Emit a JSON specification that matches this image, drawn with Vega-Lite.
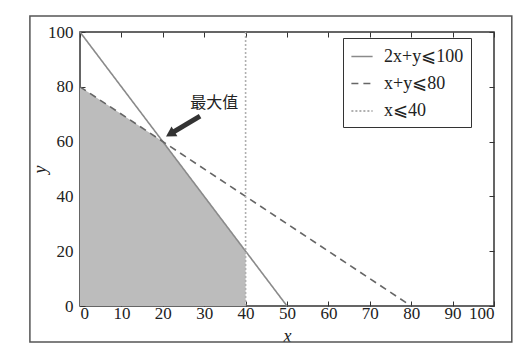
{
  "$schema": "https://vega.github.io/schema/vega-lite/v6.json",
  "width": 414,
  "height": 274,
  "autosize": {"type": "none"},
  "padding": {"left": 80, "top": 32, "right": 35, "bottom": 56},
  "background": "white",
  "config": {
    "font": "Liberation Serif",
    "view": {"stroke": "#333", "strokeWidth": 1.5},
    "axis": {"grid": false, "domain": false, "labelFont": "Liberation Serif", "labelFontSize": 17, "labelColor": "#222", "tickColor": "#333", "tickSize": -5, "tickWidth": 1, "titleFont": "Liberation Serif", "titleFontSize": 18, "titleFontStyle": "italic", "titleFontWeight": "normal", "titleColor": "#222"}
  },
  "datasets": {
    "region": [{"x": 0, "y": 80}, {"x": 20, "y": 60}, {"x": 40, "y": 20}],
    "lines": [
      {"series": "2x+y⩽100", "x": 0, "y": 100},
      {"series": "2x+y⩽100", "x": 50, "y": 0},
      {"series": "x+y⩽80", "x": 0, "y": 80},
      {"series": "x+y⩽80", "x": 80, "y": 0},
      {"series": "x⩽40", "x": 40, "y": 0},
      {"series": "x⩽40", "x": 40, "y": 100}
    ],
    "frame": [{"x": -12.1, "x2": 104.3, "y": -13.1, "y2": 105.8}],
    "shaft": [{"x": 29, "y": 69.3, "x2": 21.8, "y2": 62.8}],
    "head": [{"x": 21.8, "y": 62.8}],
    "note": [{"x": 32.4, "y": 74, "text": "最大值"}]
  },
  "layer": [
    {
      "data": {"name": "frame"},
      "mark": {"type": "rect", "fill": null, "stroke": "#555", "strokeWidth": 1.5, "clip": false},
      "encoding": {
        "x": {"field": "x", "type": "quantitative", "axis": null, "scale": {"domain": [0, 100], "nice": false}},
        "x2": {"field": "x2"},
        "y": {"field": "y", "type": "quantitative", "axis": null, "scale": {"domain": [0, 100], "nice": false}},
        "y2": {"field": "y2"}
      }
    },
    {
      "data": {"name": "region"},
      "mark": {"type": "area", "color": "#bcbcbc", "opacity": 1},
      "encoding": {
        "x": {"field": "x", "type": "quantitative", "title": "x", "scale": {"domain": [0, 100], "nice": false},
              "axis": {"orient": "bottom", "values": [0,10,20,30,40,50,60,70,80,90,100], "labelPadding": 4, "titleX": 207, "titleY": 30, "titleBaseline": "middle"}},
        "y": {"field": "y", "type": "quantitative", "title": "y", "scale": {"domain": [0, 100], "nice": false},
              "axis": {"orient": "left", "values": [0,20,40,60,80,100], "labelPadding": 12, "titleX": -40, "titleY": 137, "titleBaseline": "middle"}},
        "y2": {"datum": 0}
      }
    },
    {
      "data": {"name": "lines"},
      "mark": {"type": "line", "strokeWidth": 1.6},
      "encoding": {
        "x": {"field": "x", "type": "quantitative", "scale": {"domain": [0, 100], "nice": false},
              "axis": {"orient": "top", "values": [0,10,20,30,40,50,60,70,80,90,100], "labels": false, "title": null}},
        "y": {"field": "y", "type": "quantitative", "scale": {"domain": [0, 100], "nice": false},
              "axis": {"orient": "right", "values": [0,20,40,60,80,100], "labels": false, "title": null}},
        "detail": {"field": "series"},
        "color": {"field": "series", "type": "nominal", "title": null,
                  "scale": {"domain": ["2x+y⩽100", "x+y⩽80", "x⩽40"], "range": ["#8a8a8a", "#666666", "#b0b0b0"]},
                  "legend": {"orient": "none", "legendX": 263, "legendY": 6, "strokeColor": "#333", "padding": 7, "fillColor": "white",
                             "symbolType": "stroke", "symbolSize": 450, "symbolStrokeWidth": 1.6, "labelFont": "Liberation Serif", "labelFontSize": 18, "labelColor": "#222", "rowPadding": 6, "labelOffset": 10}},
        "strokeDash": {"field": "series", "type": "nominal", "title": null,
                       "scale": {"domain": ["2x+y⩽100", "x+y⩽80", "x⩽40"], "range": [[1, 0], [7, 5], [2, 2]]}},
        "strokeWidth": {"field": "series", "type": "nominal", "legend": null,
                        "scale": {"domain": ["2x+y⩽100", "x+y⩽80", "x⩽40"], "range": [1.6, 1.8, 1]}}
      }
    },
    {
      "data": {"name": "shaft"},
      "mark": {"type": "rule", "color": "#333", "strokeWidth": 5},
      "encoding": {
        "x": {"field": "x", "type": "quantitative", "axis": null},
        "y": {"field": "y", "type": "quantitative", "axis": null},
        "x2": {"field": "x2"},
        "y2": {"field": "y2"}
      }
    },
    {
      "data": {"name": "head"},
      "mark": {"type": "point", "shape": "triangle-up", "filled": true, "color": "#333", "size": 130, "angle": 239, "opacity": 1},
      "encoding": {
        "x": {"field": "x", "type": "quantitative", "axis": null},
        "y": {"field": "y", "type": "quantitative", "axis": null}
      }
    },
    {
      "data": {"name": "note"},
      "mark": {"type": "text", "font": "Noto Sans CJK SC", "fontSize": 16, "color": "#222"},
      "encoding": {
        "x": {"field": "x", "type": "quantitative", "axis": null},
        "y": {"field": "y", "type": "quantitative", "axis": null},
        "text": {"field": "text"}
      }
    }
  ]
}
